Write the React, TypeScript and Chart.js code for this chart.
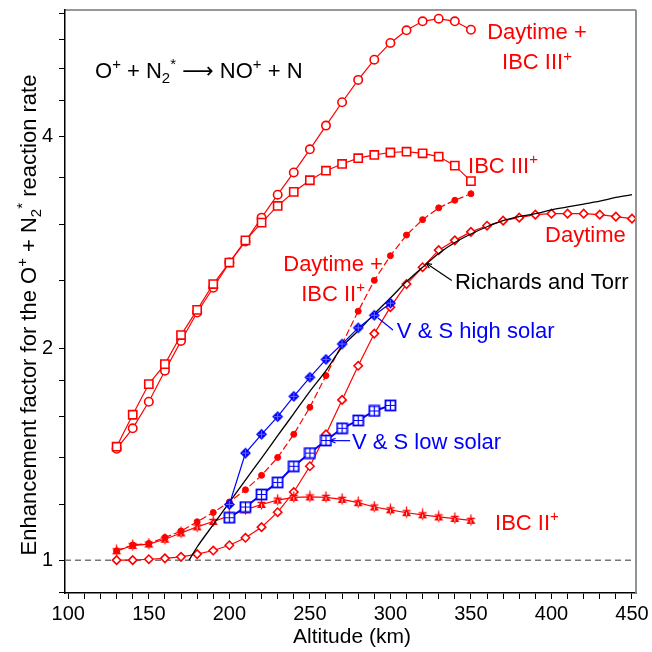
import React, { useEffect, useRef } from "react";
import { Chart, registerables } from "chart.js";

Chart.register(...registerables);

const FONT = '"Liberation Sans", Arial, Helvetica, sans-serif';
const RED = "#ff0000";
const BLUE = "#0000ff";

// Altitudes (km)
const altMain = [130, 140, 150, 160, 170, 180, 190, 200, 210, 220, 230, 240, 250, 260, 270, 280, 290, 300, 310, 320, 330, 340, 350];
const altDaytime = [130, 140, 150, 160, 170, 180, 190, 200, 210, 220, 230, 240, 250, 260, 270, 280, 290, 300, 310, 320, 330, 340, 350, 360, 370, 380, 390, 400, 410, 420, 430, 440, 450];
const altVS = [200, 210, 220, 230, 240, 250, 260, 270, 280, 290, 300];
const altRT = [175, 180, 190, 200, 210, 220, 230, 240, 250, 260, 270, 280, 290, 300, 310, 320, 330, 340, 350, 360, 370, 380, 390, 400, 410, 420, 430, 440, 450];

// Enhancement factors
const daytimeIBC3 = [1.44, 1.54, 1.68, 1.86, 2.05, 2.25, 2.44, 2.65, 2.84, 3.07, 3.31, 3.56, 3.84, 4.15, 4.48, 4.82, 5.15, 5.44, 5.67, 5.84, 5.89, 5.84, 5.68];
const ibc3 = [1.45, 1.61, 1.78, 1.9, 2.09, 2.27, 2.47, 2.65, 2.85, 3.02, 3.19, 3.34, 3.47, 3.58, 3.66, 3.73, 3.77, 3.8, 3.81, 3.79, 3.75, 3.64, 3.46];
const daytimeIBC2 = [1.031, 1.051, 1.056, 1.077, 1.1, 1.134, 1.169, 1.21, 1.259, 1.32, 1.4, 1.51, 1.65, 1.83, 2.03, 2.26, 2.5, 2.71, 2.9, 3.05, 3.17, 3.25, 3.32];
const daytime = [1.0, 1.0, 1.003, 1.006, 1.011, 1.02, 1.032, 1.05, 1.076, 1.114, 1.17, 1.25, 1.36, 1.51, 1.69, 1.89, 2.1, 2.29, 2.47, 2.61, 2.76, 2.85, 2.93, 2.99, 3.04, 3.07, 3.1, 3.11, 3.11, 3.11, 3.1, 3.08, 3.06];
const ibc2 = [1.031, 1.049, 1.054, 1.071, 1.093, 1.115, 1.135, 1.156, 1.18, 1.2, 1.217, 1.228, 1.23, 1.228, 1.22, 1.207, 1.19, 1.179, 1.168, 1.16, 1.152, 1.146, 1.139];
const vsHigh = [1.2, 1.42, 1.51, 1.6, 1.71, 1.82, 1.93, 2.03, 2.14, 2.23, 2.32];
const vsLow = [1.149, 1.19, 1.24, 1.29, 1.36, 1.42, 1.48, 1.54, 1.58, 1.63, 1.66];
const richardsTorr = [1.0, 1.044, 1.123, 1.208, 1.3, 1.397, 1.503, 1.616, 1.738, 1.86, 2.01, 2.12, 2.24, 2.36, 2.49, 2.61, 2.73, 2.83, 2.91, 2.98, 3.04, 3.08, 3.11, 3.15, 3.18, 3.21, 3.24, 3.28, 3.31];

// Ticks
const xTicks = [100, 110, 120, 130, 140, 150, 160, 170, 180, 190, 200, 210, 220, 230, 240, 250, 260, 270, 280, 290, 300, 310, 320, 330, 340, 350, 360, 370, 380, 390, 400, 410, 420, 430, 440, 450];
const xLabels = [100, 150, 200, 250, 300, 350, 400, 450];
const yTicks = [0.9, 1, 1.2, 1.4, 1.6, 1.8, 2, 2.5, 3, 3.5, 4, 4.5, 5, 5.5, 6];
const yLabels = [1, 2, 4];

type Seg = { t: string; s?: "sup" | "sub"; f?: string };

// Text annotations (anchored in data coordinates)
const annotations: { segs: Seg[]; alt: number; val: number; align: "left" | "center"; color: string; size: number }[] = [
  { segs: [{ t: "O" }, { t: "+", s: "sup" }, { t: " + N" }, { t: "2", s: "sub" }, { t: "*", s: "sup" }, { t: " " }, { t: "\u27F6", f: '"DejaVu Sans", sans-serif' }, { t: " NO" }, { t: "+", s: "sup" }, { t: " + N" }], alt: 116.6, val: 4.98, align: "left", color: "#000", size: 22 },
  { segs: [{ t: "Daytime +" }], alt: 391, val: 5.65, align: "center", color: RED, size: 22 },
  { segs: [{ t: "IBC III" }, { t: "+", s: "sup" }], alt: 391, val: 5.12, align: "center", color: RED, size: 22 },
  { segs: [{ t: "IBC III" }, { t: "+", s: "sup" }], alt: 348.2, val: 3.65, align: "left", color: RED, size: 22 },
  { segs: [{ t: "Daytime" }], alt: 396, val: 2.91, align: "left", color: RED, size: 22 },
  { segs: [{ t: "Daytime +" }], alt: 264.4, val: 2.645, align: "center", color: RED, size: 22 },
  { segs: [{ t: "IBC II" }, { t: "+", s: "sup" }], alt: 264.4, val: 2.4, align: "center", color: RED, size: 22 },
  { segs: [{ t: "Richards and Torr" }], alt: 340.1, val: 2.495, align: "left", color: "#000", size: 22 },
  { segs: [{ t: "V & S high solar" }], alt: 304, val: 2.125, align: "left", color: BLUE, size: 22 },
  { segs: [{ t: "V & S low solar" }], alt: 276.1, val: 1.477, align: "left", color: BLUE, size: 22 },
  { segs: [{ t: "IBC II" }, { t: "+", s: "sup" }], alt: 365, val: 1.133, align: "left", color: RED, size: 22 },
];

// Callout lines: from (alt,val) on the curve to (alt,val) at the label
const callouts: { from: [number, number]; to: [number, number]; color: string; arrow: boolean }[] = [
  { from: [322.2, 2.644], to: [338.1, 2.498], color: "#000", arrow: true },
  { from: [292.3, 2.21], to: [301.6, 2.125], color: BLUE, arrow: false },
  { from: [262.5, 1.479], to: [275, 1.479], color: BLUE, arrow: true },
];

function pairs(xs: number[], ys: number[]) {
  return xs.map((x, i) => ({ x, y: ys[i] }));
}

function drawRich(ctx: CanvasRenderingContext2D, segs: Seg[], x: number, baseline: number, size: number, color: string, align: "left" | "center") {
  ctx.save();
  ctx.fillStyle = color;
  ctx.textBaseline = "alphabetic";
  ctx.textAlign = "left";
  const fontFor = (sg: Seg) => `${sg.s ? Math.round(size * 0.66) : size}px ${sg.f || FONT}`;
  const widths = segs.map((sg) => {
    ctx.font = fontFor(sg);
    return ctx.measureText(sg.t).width;
  });
  const total = widths.reduce((a, b) => a + b, 0);
  let cx = align === "center" ? x - total / 2 : x;
  segs.forEach((sg, i) => {
    ctx.font = fontFor(sg);
    const dy = sg.s === "sup" ? -size * 0.4 : sg.s === "sub" ? size * 0.22 : 0;
    ctx.fillText(sg.t, cx, baseline + dy);
    cx += widths[i];
  });
  ctx.restore();
}

function makeMarker(kind: string): HTMLCanvasElement {
  const c = document.createElement("canvas");
  const S = 13;
  c.width = S;
  c.height = S;
  const g = c.getContext("2d")!;
  const m = S / 2;
  if (kind === "triPlus") {
    g.fillStyle = RED;
    g.beginPath();
    g.moveTo(m, 2.5);
    g.lineTo(m + 4.5, 10);
    g.lineTo(m - 4.5, 10);
    g.closePath();
    g.fill();
    g.strokeStyle = RED;
    g.lineWidth = 1.3;
    g.beginPath();
    g.moveTo(m, 0.5);
    g.lineTo(m, 11.5);
    g.moveTo(m - 4, 4.5);
    g.lineTo(m + 4, 4.5);
    g.stroke();
    g.strokeStyle = "#ffffff";
    g.lineWidth = 0.8;
    g.beginPath();
    g.moveTo(m, 6);
    g.lineTo(m, 9.5);
    g.stroke();
  } else if (kind === "diamondPlus") {
    g.fillStyle = BLUE;
    g.beginPath();
    g.moveTo(m, m - 5.5);
    g.lineTo(m + 5.5, m);
    g.lineTo(m, m + 5.5);
    g.lineTo(m - 5.5, m);
    g.closePath();
    g.fill();
    g.strokeStyle = "#6a6aff";
    g.lineWidth = 1;
    g.beginPath();
    g.moveTo(m, m - 3.5);
    g.lineTo(m, m + 3.5);
    g.moveTo(m - 3.5, m);
    g.lineTo(m + 3.5, m);
    g.stroke();
  } else if (kind === "squareGrid") {
    g.fillStyle = "#ffffff";
    g.fillRect(1.5, 1.5, 10, 10);
    g.strokeStyle = BLUE;
    g.lineWidth = 1.8;
    g.strokeRect(1.5, 1.5, 10, 10);
    g.lineWidth = 1.2;
    g.beginPath();
    g.moveTo(m, 2);
    g.lineTo(m, 11);
    g.moveTo(2, m);
    g.lineTo(11, m);
    g.stroke();
  }
  return c;
}

export default function App() {
  const canvasRef = useRef<HTMLCanvasElement | null>(null);

  useEffect(() => {
    if (!canvasRef.current) return;
    const triPlus = makeMarker("triPlus");
    const diamondPlus = makeMarker("diamondPlus");
    const squareGrid = makeMarker("squareGrid");

    const overlay = {
      id: "overlay",
      beforeDatasetsDraw(chart: any) {
        const { ctx, chartArea, scales } = chart;
        const y1 = scales.y.getPixelForValue(1);
        ctx.save();
        ctx.strokeStyle = "#777777";
        ctx.lineWidth = 1.5;
        ctx.setLineDash([6, 4]);
        ctx.beginPath();
        ctx.moveTo(chartArea.left, y1);
        ctx.lineTo(chartArea.right, y1);
        ctx.stroke();
        ctx.restore();
      },
      afterDatasetsDraw(chart: any) {
        const { ctx, chartArea, scales } = chart;
        const px = (a: number) => scales.x.getPixelForValue(a);
        const py = (v: number) => scales.y.getPixelForValue(v);
        // frame top/right
        ctx.save();
        ctx.strokeStyle = "#333333";
        ctx.lineWidth = 1.2;
        ctx.beginPath();
        ctx.moveTo(chartArea.left, chartArea.top);
        ctx.lineTo(chartArea.right, chartArea.top);
        ctx.stroke();
        ctx.strokeStyle = "#888888";
        ctx.lineWidth = 1.8;
        ctx.beginPath();
        ctx.moveTo(chartArea.right, chartArea.top);
        ctx.lineTo(chartArea.right, chartArea.bottom);
        ctx.stroke();
        ctx.restore();

        // callouts
        callouts.forEach((c) => {
          const x0 = px(c.from[0]);
          const y0 = py(c.from[1]);
          const x1 = px(c.to[0]);
          const y1 = py(c.to[1]);
          ctx.save();
          ctx.strokeStyle = c.color;
          ctx.fillStyle = c.color;
          ctx.lineWidth = 1.2;
          ctx.beginPath();
          ctx.moveTo(x0, y0);
          ctx.lineTo(x1, y1);
          ctx.stroke();
          if (c.arrow) {
            const ang = Math.atan2(y0 - y1, x0 - x1);
            const L = 6;
            ctx.beginPath();
            ctx.moveTo(x0, y0);
            ctx.lineTo(x0 - L * Math.cos(ang - 0.4), y0 - L * Math.sin(ang - 0.4));
            ctx.moveTo(x0, y0);
            ctx.lineTo(x0 - L * Math.cos(ang + 0.4), y0 - L * Math.sin(ang + 0.4));
            ctx.stroke();
          }
          ctx.restore();
        });

        // annotations
        annotations.forEach((a) => {
          drawRich(ctx, a.segs, px(a.alt), py(a.val) + a.size * 0.36, a.size, a.color, a.align);
        });

        // axis titles
        drawRich(ctx, [{ t: "Altitude (km)" }], 352, 643, 21, "#000", "center");
        ctx.save();
        ctx.translate(36, 315);
        ctx.rotate(-Math.PI / 2);
        drawRich(
          ctx,
          [{ t: "Enhancement factor for the O" }, { t: "+", s: "sup" }, { t: " + N" }, { t: "2", s: "sub" }, { t: "*", s: "sup" }, { t: " reaction rate" }],
          0,
          0,
          22,
          "#000",
          "center"
        );
        ctx.restore();
      },
    };

    const common = { tension: 0, fill: false, borderWidth: 1.2 };

    const chart = new Chart(canvasRef.current, {
      type: "line",
      data: {
        datasets: [
          { ...common, label: "V & S low solar", data: pairs(altVS, vsLow), borderColor: BLUE, borderWidth: 2, pointStyle: squareGrid as any, pointRadius: 6 },
          { ...common, label: "V & S high solar", data: pairs(altVS, vsHigh), borderColor: BLUE, borderWidth: 1.2, pointStyle: diamondPlus as any, pointRadius: 6 },
          { ...common, label: "Richards and Torr", data: pairs(altRT, richardsTorr), borderColor: "#000000", borderWidth: 1.3, pointRadius: 0, cubicInterpolationMode: "monotone" as const },
          { ...common, label: "Daytime + IBC II+", data: pairs(altMain, daytimeIBC2), borderColor: RED, borderDash: [7, 3], pointStyle: "circle", pointRadius: 3, pointBackgroundColor: RED, pointBorderColor: RED, pointBorderWidth: 1 },
          { ...common, label: "IBC II+", data: pairs(altMain, ibc2), borderColor: RED, pointStyle: triPlus as any, pointRadius: 6 },
          { ...common, label: "Daytime", data: pairs(altDaytime, daytime), borderColor: RED, pointStyle: "rectRot", pointRadius: 4.2, pointBackgroundColor: "#ffffff", pointBorderColor: RED, pointBorderWidth: 1.6 },
          { ...common, label: "IBC III+", data: pairs(altMain, ibc3), borderColor: RED, pointStyle: "rect", pointRadius: 5.8, pointBackgroundColor: "#ffffff", pointBorderColor: RED, pointBorderWidth: 1.6 },
          { ...common, label: "Daytime + IBC III+", data: pairs(altMain, daytimeIBC3), borderColor: RED, pointStyle: "circle", pointRadius: 4.2, pointBackgroundColor: "#ffffff", pointBorderColor: RED, pointBorderWidth: 1.6 },
        ],
      },
      options: {
        animation: false,
        responsive: true,
        maintainAspectRatio: false,
        layout: { padding: { left: 0, right: 16, top: 10, bottom: 0 } },
        plugins: { legend: { display: false }, tooltip: { enabled: false } },
        scales: {
          x: {
            type: "linear",
            min: 97.95,
            max: 452.5,
            afterFit: (s: any) => {
              s.height = 59;
              s.paddingLeft = 0;
              s.paddingRight = 0;
            },
            afterBuildTicks: (s: any) => {
              s.ticks = xTicks.map((v) => ({ value: v }));
            },
            ticks: {
              autoSkip: false,
              maxRotation: 0,
              color: "#000",
              font: { family: FONT, size: 20 },
              padding: 3,
              callback: (v: any) => (xLabels.includes(Number(v)) ? String(v) : ""),
            },
            grid: { drawOnChartArea: false, drawTicks: true, tickLength: 6, color: "#000", lineWidth: 1 },
            border: { display: true, color: "#000", width: 1.5 },
          },
          y: {
            type: "logarithmic",
            min: 0.898,
            max: 6.06,
            afterFit: (s: any) => {
              s.width = 65;
              s.paddingTop = 0;
              s.paddingBottom = 0;
            },
            afterBuildTicks: (s: any) => {
              s.ticks = yTicks.map((v) => ({ value: v }));
            },
            ticks: {
              autoSkip: false,
              color: "#000",
              font: { family: FONT, size: 20 },
              padding: 6,
              callback: (v: any) => (yLabels.includes(Number(v)) ? String(v) : ""),
            },
            grid: { drawOnChartArea: false, drawTicks: true, tickLength: 6, color: "#000", lineWidth: 1 },
            border: { display: true, color: "#000", width: 1.5 },
          },
        },
      },
      plugins: [overlay],
    } as any);

    return () => chart.destroy();
  }, []);

  return (
    <div style={{ position: "fixed", left: 0, top: 0, width: 652, height: 652, background: "#fff" }}>
      <canvas ref={canvasRef} />
    </div>
  );
}
